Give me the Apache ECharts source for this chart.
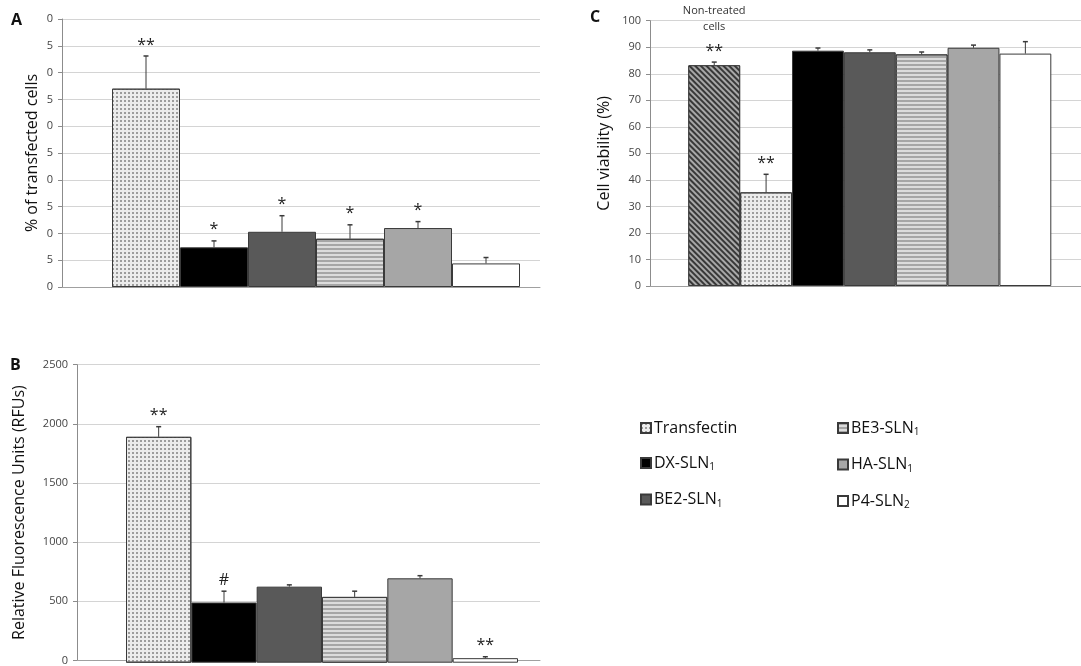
<!DOCTYPE html>
<html><head><meta charset="utf-8">
<script src="https://cdn.jsdelivr.net/npm/echarts@6/dist/echarts.min.js"></script>
<style>html,body{margin:0;padding:0;background:#fff}#c{width:1081px;height:666px}</style>
</head><body><div id="c"></div>
<script>
// ---- data ----
const groups = ['Transfectin', 'DX-SLN1', 'BE2-SLN1', 'BE3-SLN1', 'HA-SLN1', 'P4-SLN2'];
const transfectedPct = [37.0, 7.4, 10.3, 9.0, 11.0, 4.4];
const transfectedErr = [6.1, 1.2, 3.0, 2.6, 1.2, 1.1];
const transfectedSig = ['**', '*', '*', '*', '*', ''];
const rfu = [1895, 505, 638, 552, 708, 38];
const rfuErr = [85, 95, 15, 48, 22, 12];
const rfuSig = ['**', '#', '', '', '', '**'];
const viabilityGroups = ['Non-treated cells'].concat(groups);
const viability = [83.2, 35.3, 88.7, 88.1, 87.3, 89.8, 87.6];
const viabilityErr = [1.2, 6.8, 1.0, 0.9, 0.9, 1.0, 4.5];
const viabilitySig = ['**', '**', '', '', '', '', ''];
const legendCol1 = ['Transfectin', 'DX-SLN1', 'BE2-SLN1'];
const legendCol2 = ['BE3-SLN1', 'HA-SLN1', 'P4-SLN2'];

// ---- styles ----
const FONT = '"Open Sans", "Liberation Sans", sans-serif';
const styles = {
  'Non-treated cells': {color: '#383838', decal: {symbol: 'rect', symbolSize: 1, dashArrayX: [1, 0], dashArrayY: [1.6, 1.6], rotation: Math.PI / 4, color: '#a8a8a8'}},
  'Transfectin': {color: '#ececec', decal: {symbol: 'rect', symbolSize: 1, dashArrayX: [1.5, 1.5], dashArrayY: [1.5, 1.5], rotation: 0, color: '#9c9c9c'}},
  'DX-SLN1': {color: '#000000'},
  'BE2-SLN1': {color: '#595959'},
  'BE3-SLN1': {color: '#dcdcdc', decal: {symbol: 'rect', symbolSize: 1, dashArrayX: [1, 0], dashArrayY: [2, 2], rotation: 0, color: '#a6a6a6'}},
  'HA-SLN1': {color: '#a6a6a6'},
  'P4-SLN2': {color: '#ffffff'}
};

const panels = [
  {names: groups, vals: transfectedPct, errs: transfectedErr, sig: transfectedSig, max: 50, interval: 5,
   lines: {left: 62, top: 19, width: 478, height: 268}, bars: {left: 112, width: 408},
   title: '% of transfected cells', nameGap: 22, fmt: v => String(v).slice(-1)},
  {names: groups, vals: rfu, errs: rfuErr, sig: rfuSig, max: 2500, interval: 500,
   lines: {left: 77, top: 364.7, width: 463, height: 298}, bars: {left: 126, width: 392},
   title: 'Relative Fluorescence Units (RFUs)', nameGap: 50, fmt: v => String(v)},
  {names: viabilityGroups, vals: viability, errs: viabilityErr, sig: viabilitySig, max: 100, interval: 10,
   lines: {left: 650, top: 20.7, width: 431, height: 265.3}, bars: {left: 688.3, width: 363},
   title: 'Cell viability (%)', nameGap: 38, fmt: v => String(v), note: 'Non-treated\ncells'}
];

const grid = [], xAxis = [], yAxis = [], series = [];
panels.forEach((p, k) => {
  const gl = grid.length;
  grid.push({left: p.lines.left, top: p.lines.top, width: p.lines.width, height: p.lines.height});
  grid.push({left: p.bars.left, top: p.lines.top, width: p.bars.width, height: p.lines.height});
  xAxis.push({gridIndex: gl, type: 'category', data: [''], axisLine: {show: true, lineStyle: {color: '#a0a0a0'}},
    axisTick: {show: false}, axisLabel: {show: false}});
  xAxis.push({gridIndex: gl + 1, type: 'category', data: p.names, show: false});
  yAxis.push({gridIndex: gl, type: 'value', min: 0, max: p.max, interval: p.interval,
    name: p.title, nameLocation: 'middle', nameGap: p.nameGap, nameRotate: 90,
    nameTextStyle: {fontFamily: FONT, fontSize: 16, color: '#111', verticalAlign: 'bottom'},
    axisLine: {show: true, lineStyle: {color: '#8c8c8c'}},
    axisTick: {show: true, length: 4, lineStyle: {color: '#8c8c8c'}},
    axisLabel: {fontFamily: FONT, fontSize: 11, color: '#444', margin: 9, formatter: p.fmt},
    splitLine: {lineStyle: {color: '#d4d4d4', width: 1}}});
  yAxis.push({gridIndex: gl + 1, type: 'value', min: 0, max: p.max, show: false, splitLine: {show: false}});
  const xi = xAxis.length - 1, yi = yAxis.length - 1;
  p.names.forEach((nm, i) => {
    const st = styles[nm];
    series.push({type: 'bar', name: nm, xAxisIndex: xi, yAxisIndex: yi, stack: 'p' + k,
      barCategoryGap: '0%', barGap: '0%', silent: true, animation: false,
      itemStyle: {color: st.color, decal: st.decal || null, borderColor: '#3a3a3a', borderWidth: 1},
      data: p.vals.map((v, j) => j === i ? v : '-')});
  });
  series.push({type: 'custom', xAxisIndex: xi, yAxisIndex: yi, z: 10, animation: false, silent: true,
    data: p.vals.map((v, i) => [i, v, p.errs[i]]),
    renderItem: (params, api) => {
      const i = api.value(0), v = api.value(1), e = api.value(2);
      const b = api.coord([i, v]), t = api.coord([i, v + e]);
      const ch = [
        {type: 'line', shape: {x1: b[0], y1: b[1], x2: t[0], y2: t[1]}, style: {stroke: '#3a3a3a', lineWidth: 1}},
        {type: 'line', shape: {x1: t[0] - 2.5, y1: t[1], x2: t[0] + 2.5, y2: t[1]}, style: {stroke: '#3a3a3a', lineWidth: 1.5}}
      ];
      if (p.sig[i]) ch.push({type: 'text', style: {text: p.sig[i], x: t[0], y: t[1] - 11, textAlign: 'center', textVerticalAlign: 'middle',
        font: '16px ' + FONT, fill: '#222'}});
      if (p.note && i === 0) {
        const top = api.coord([i, p.max]);
        ch.push({type: 'text', style: {text: p.note, x: t[0], y: top[1] - 2, textAlign: 'center', textVerticalAlign: 'middle',
          font: '11px ' + FONT, fill: '#333', lineHeight: 16}});
      }
      return {type: 'group', children: ch};
    }});
});

const rich = {n: {fontFamily: FONT, fontSize: 16, color: '#111'}, s: {fontFamily: FONT, fontSize: 10, color: '#111', padding: [9, 0, 0, 0]}};
const legFmt = name => {
  const m = name.match(/^(.*?)(\d)$/);
  return m && name !== 'Transfectin' ? '{n|' + m[1] + '}{s|' + m[2] + '}' : '{n|' + name + '}';
};
const legendBase = {orient: 'vertical', itemWidth: 10, itemHeight: 10, itemGap: 19, icon: 'rect', selectedMode: false,
  formatter: legFmt, textStyle: {rich: rich, padding: [0, 0, 0, -2]}};

const chart = echarts.init(document.getElementById('c'), null, {renderer: 'canvas'});
chart.setOption({
  animation: false,
  grid, xAxis, yAxis, series,
  legend: [
    Object.assign({}, legendBase, {data: legendCol1, left: 635, top: 415}),
    Object.assign({}, legendBase, {data: legendCol2, left: 832, top: 415})
  ],
  graphic: [
    {type: 'text', left: 11, top: 12, style: {text: 'A', font: 'bold 16px ' + FONT, fill: '#111'}},
    {type: 'text', left: 10, top: 357, style: {text: 'B', font: 'bold 16px ' + FONT, fill: '#111'}},
    {type: 'text', left: 590, top: 9, style: {text: 'C', font: 'bold 16px ' + FONT, fill: '#111'}}
  ]
});
</script></body></html>
